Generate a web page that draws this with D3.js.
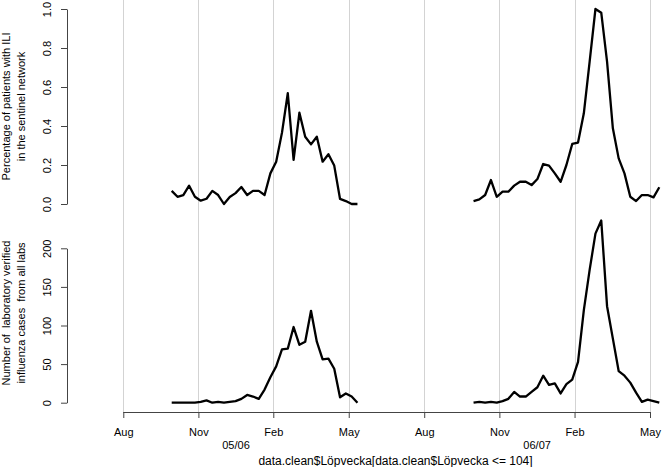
<!DOCTYPE html>
<html><head><meta charset="utf-8">
<script src="https://cdn.jsdelivr.net/npm/d3@7"></script>
<style>
body{margin:0;background:#fff;}
text{font-family:"Liberation Sans",Arial,Helvetica,sans-serif;}
</style></head>
<body><svg id="c" width="662" height="467"></svg>
<script>
// Running week numbers (Löpvecka) for the two seasons
const weeks1 = [20,21,22,23,24,25,26,27,28,29,30,31,32,33,34,35,36,37,38,39,40,41,42,43,44,45,46,47,48,49,50,51,52];
const weeks2 = [72,73,74,75,76,77,78,79,80,81,82,83,84,85,86,87,88,89,90,91,92,93,94,95,96,97,98,99,100,101,102,103,104];
// Percentage of patients with ILI (sentinel network)
const ili1 = [0.067,0.037,0.046,0.094,0.037,0.017,0.027,0.067,0.046,0.0,0.036,0.056,0.087,0.046,0.067,0.067,0.046,0.157,0.217,0.366,0.568,0.226,0.468,0.345,0.306,0.345,0.217,0.255,0.197,0.026,0.015,0.0,0.0];
const ili2 = [0.015,0.024,0.046,0.123,0.037,0.063,0.063,0.094,0.114,0.114,0.097,0.128,0.205,0.197,0.157,0.114,0.2,0.308,0.315,0.465,0.73,1.0,0.981,0.73,0.388,0.234,0.157,0.037,0.015,0.046,0.046,0.034,0.086];
// Number of laboratory verified influenza cases
const lab1 = [0,0,0,0,0,1,3,0,1,0,1,2,5,10,8,5,17,33,47,69,70,98,75,79,119,79,56,57,44,7,12,8,0];
const lab2 = [0,1,0,1,0,2,5,14,8,8,14,20,35,23,25,12,24,30,53,120,172,219,236,125,83,41,35,26,13,1,4,2,0];
// Axis ticks
const xTickWeeks = [11.66,24.6,37.5,50.5,63.5,76.45,89.4,102.4];
const xTickLabels = ["Aug","Nov","Feb","May","Aug","Nov","Feb","May"];
const seasonLabels = ["05/06","06/07"];
const iliTicks = [0,0.2,0.4,0.6,0.8,1.0];
const labTicks = [0,50,100,150,200];

const svg = d3.select("#c");
const x = d3.scaleLinear().domain([20,104]).range([171.7,659.3]);
const yTop = d3.scaleLinear().domain([0,1]).range([204,9]);
const yBot = d3.scaleLinear().domain([0,200]).range([402.7,248.3]);
const axisY = 412;

// grid lines
svg.append("g").selectAll("line").data(xTickWeeks).join("line")
  .attr("x1",d=>Math.round(x(d))+0.5).attr("x2",d=>Math.round(x(d))+0.5)
  .attr("y1",0).attr("y2",axisY)
  .attr("stroke","#d3d3d3").attr("stroke-width",1);

function series(w1,v1,w2,v2){
  const pts = [];
  w1.forEach((w,i)=>pts.push({w,v:v1[i]}));
  pts.push({w:(w1[w1.length-1]+w2[0])/2,v:null});
  w2.forEach((w,i)=>pts.push({w,v:v2[i]}));
  return pts;
}
const lineTop = d3.line().defined(d=>d.v!=null).x(d=>x(d.w)).y(d=>yTop(d.v));
const lineBot = d3.line().defined(d=>d.v!=null).x(d=>x(d.w)).y(d=>yBot(d.v));
svg.append("path").datum(series(weeks1,ili1,weeks2,ili2)).attr("d",lineTop)
  .attr("fill","none").attr("stroke","#000").attr("stroke-width",2.3).attr("stroke-linejoin","round");
svg.append("path").datum(series(weeks1,lab1,weeks2,lab2)).attr("d",lineBot)
  .attr("fill","none").attr("stroke","#000").attr("stroke-width",2.3).attr("stroke-linejoin","round");

function styleAxis(g){
  g.selectAll("path.domain").attr("stroke","#444");
  g.selectAll(".tick line").attr("stroke","#444");
  g.selectAll(".tick text").attr("fill","#000").style("font-size","11px")
   .style("font-family",'"Liberation Sans",Arial,sans-serif');
}
// Y axes
function yAxis(scale, ticks, fmt){
  const g = svg.append("g").attr("transform","translate(67,0)")
    .call(d3.axisLeft(scale).tickValues(ticks).tickFormat(fmt).tickSize(6).tickSizeOuter(0));
  g.attr("font-family",null).attr("font-size",null);
  styleAxis(g);
  g.selectAll(".tick text").attr("x",0).attr("dy",null).attr("text-anchor","middle")
    .attr("transform","translate(-16,0) rotate(-90)").attr("y",0);
  return g;
}
yAxis(yTop, iliTicks, d3.format(".1f"));
yAxis(yBot, labTicks, d3.format("d"));

// X axis
const gx = svg.append("g").attr("transform",`translate(0,${axisY})`)
  .call(d3.axisBottom(x).tickValues(xTickWeeks).tickFormat((d,i)=>xTickLabels[i]).tickSize(6).tickSizeOuter(0));
gx.attr("font-family",null).attr("font-size",null);
styleAxis(gx);
gx.select("path.domain").remove();
gx.selectAll(".tick text").attr("dy",null).attr("y",24);
gx.append("line").attr("x1",x(xTickWeeks[0])).attr("x2",x(xTickWeeks[xTickWeeks.length-1]))
  .attr("y1",0.5).attr("y2",0.5).attr("stroke","#444");

// season labels
svg.append("g").selectAll("text").data(seasonLabels).join("text")
  .attr("x",(d,i)=>(x(xTickWeeks[i*4])+x(xTickWeeks[i*4+3]))/2)
  .attr("y",449).attr("text-anchor","middle").style("font-size","11px").text(d=>d);

// x label
svg.append("text").attr("x",395.5).attr("y",464.5).attr("text-anchor","middle")
  .style("font-size","12px").text("data.clean$Löpvecka[data.clean$Löpvecka <= 104]");

// y titles
function yTitle(lines, cy){
  lines.forEach((t,i)=>{
    svg.append("text").attr("transform",`translate(${10+i*15},${cy}) rotate(-90)`)
      .attr("text-anchor","middle").style("font-size","11px").style("white-space","pre")
      .attr("xml:space","preserve").text(t);
  });
}
yTitle(["Percentage of patients with ILI","in the sentinel network"], 106.5);
yTitle(["Number of  laboratory verified","influenza cases  from all labs"], 313);
</script></body></html>
